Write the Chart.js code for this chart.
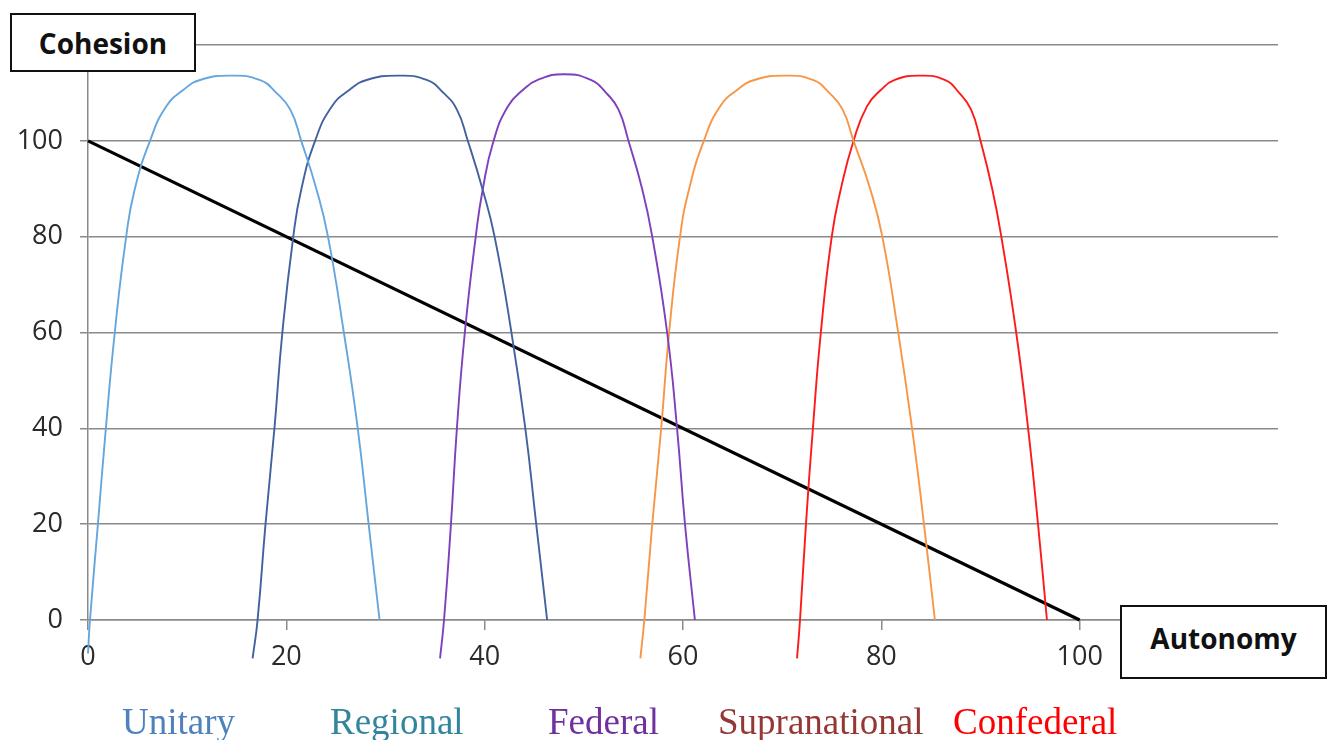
<!DOCTYPE html>
<html>
<head>
<meta charset="utf-8">
<script src="https://cdn.jsdelivr.net/npm/chart.js@4/dist/chart.umd.min.js"></script>
<style>
    body { margin: 0; background: #fff; }
    #wrap { position: relative; width: 1328px; height: 740px; overflow: hidden; }
    #chart { position: absolute; left: 0; top: 0; }
    .axis-box {
        position: absolute; box-sizing: border-box; border: 2px solid #111; background: #fff;
        display: flex; align-items: center; justify-content: center;
        font: bold 28px 'Open Sans', sans-serif; color: #111;
    }
    .kind {
        position: absolute; top: 704px; font: 37px 'Liberation Serif', serif; line-height: 36px; white-space: nowrap;
    }
</style>
</head>
<body>
<div id="wrap">
    <canvas id="chart" width="1328" height="740"></canvas>
    <div class="axis-box" style="left:10px; top:13px; width:186px; height:59px;">Cohesion</div>
    <div class="axis-box" style="left:1120px; top:605px; width:207px; height:74px; padding-bottom:8px;">Autonomy</div>
    <div class="kind" style="left:122px; color:#4f81bd;">Unitary</div>
    <div class="kind" style="left:330px; color:#31859c;">Regional</div>
    <div class="kind" style="left:548px; color:#7030a0;">Federal</div>
    <div class="kind" style="left:718px; color:#953735;">Supranational</div>
    <div class="kind" style="left:953px; color:#ff0000;">Confederal</div>
</div>
<script>
// Axis ticks (0..120, the 120 labels sit under the boxes)
const xTicks = [0, 20, 40, 60, 80, 100, 120];
const yTicks = [0, 20, 40, 60, 80, 100, 120];

// Curves (autonomy, cohesion)
const unitaryX = [0.0, 0.2, 1.0, 1.8, 2.7, 3.85, 4.7, 6.25, 7.9, 9.6, 11.3, 14.3, 17.3, 19.0, 20.4, 21.5, 23.05, 24.2, 25.8, 27.2, 28.3, 29.4];
const unitaryY = [-7, 0, 20, 40, 60, 80, 89.8, 100, 107.2, 110.6, 112.7, 113.6, 112.7, 110.0, 106.5, 100, 89.8, 80, 60, 40, 20, 0];

const regionalX = [16.6, 17.1, 17.9, 18.8, 19.6, 20.7, 21.5, 22.9, 24.6, 26.35, 28.1, 31.2, 34.15, 35.85, 37.2, 38.3, 39.8, 41.0, 42.7, 44.1, 45.2, 46.3];
const regionalY = [-8, 0, 20, 40, 60, 80, 89.8, 100, 107.2, 110.6, 112.7, 113.6, 112.7, 110.0, 106.5, 100, 89.8, 80, 60, 40, 20, 0];

const federalX = [35.5, 35.9, 36.6, 37.2, 38.0, 39.1, 39.8, 40.9, 42.35, 43.85, 45.35, 48.0, 50.7, 52.25, 53.5, 54.5, 55.9, 56.9, 58.4, 59.4, 60.2, 61.2];
const federalY = [-8, 0, 20, 40, 60, 80, 89.8, 100, 107.2, 110.6, 112.7, 113.9, 112.7, 110.0, 106.5, 100, 89.8, 80, 60, 40, 20, 0];

const supraX = [55.7, 56.1, 56.9, 57.8, 58.6, 59.7, 60.6, 62.1, 63.75, 65.45, 67.2, 70.2, 73.1, 74.75, 76.1, 77.2, 78.9, 80.1, 81.7, 83.1, 84.3, 85.4];
const supraY = [-8, 0, 20, 40, 60, 80, 89.8, 100, 107.2, 110.6, 112.7, 113.6, 112.7, 110.0, 106.5, 100, 89.8, 80, 60, 40, 20, 0];

const confedX = [71.5, 71.8, 72.4, 73.1, 73.9, 75.0, 75.9, 77.2, 78.55, 79.95, 81.35, 83.8, 86.4, 87.85, 89.05, 90.0, 91.2, 92.1, 93.6, 94.8, 95.8, 96.7];
const confedY = [-8, 0, 20, 40, 60, 80, 89.8, 100, 107.2, 110.6, 112.7, 113.6, 112.7, 110.0, 106.5, 100, 89.8, 80, 60, 40, 20, 0];

// Straight trade-off line
const trendX = [0, 100];
const trendY = [100, 0];

const GRID = '#8a8a8a';

function pts(xs, ys) {
    return xs.map((x, i) => ({ x: x, y: ys[i] }));
}

function curve(label, xs, ys, color) {
    return {
        label: label,
        data: pts(xs, ys),
        showLine: true,
        borderColor: color,
        borderWidth: 1.9,
        pointRadius: 0,
        tension: 0.5,
        clip: false
    };
}

new Chart(document.getElementById('chart'), {
    type: 'scatter',
    data: {
        datasets: [
            curve('Unitary', unitaryX, unitaryY, '#66a6de'),
            curve('Regional', regionalX, regionalY, '#41629f'),
            curve('Federal', federalX, federalY, '#7e40bc'),
            curve('Supranational', supraX, supraY, '#f79646'),
            curve('Confederal', confedX, confedY, '#ff1a1a'),
            {
                label: 'Trade-off',
                data: pts(trendX, trendY),
                showLine: true,
                borderColor: '#000',
                borderWidth: 3.2,
                pointRadius: 0,
                clip: false
            }
        ]
    },
    options: {
        responsive: false,
        animation: false,
        layout: { padding: { left: 0, top: 45, right: 50, bottom: 60 } },
        plugins: {
            legend: { display: false },
            tooltip: { enabled: false }
        },
        scales: {
            x: {
                type: 'linear',
                min: 0,
                max: 120,
                afterBuildTicks: s => { s.ticks = xTicks.map(v => ({ value: v })); },
                afterFit: s => { s.height = 60; },
                grid: { drawOnChartArea: false, color: GRID, lineWidth: 1.5, tickLength: 10 },
                border: { color: GRID, width: 1.5 },
                ticks: {
                    color: '#2a2a2a',
                    padding: 11,
                    maxRotation: 0,
                    autoSkip: false,
                    font: { family: 'Open Sans', size: 27 },
                    callback: v => (v === 120 ? '' : v)
                }
            },
            y: {
                type: 'linear',
                min: 0,
                max: 120,
                afterBuildTicks: s => { s.ticks = yTicks.map(v => ({ value: v })); },
                afterFit: s => { s.width = 88; },
                grid: { color: GRID, lineWidth: 1.5, tickLength: 8 },
                border: { color: GRID, width: 1.5 },
                ticks: {
                    color: '#2a2a2a',
                    padding: 17,
                    autoSkip: false,
                    font: { family: 'Open Sans', size: 27 },
                    callback: v => (v === 120 ? '' : v)
                }
            }
        }
    }
});
</script>
</body>
</html>
